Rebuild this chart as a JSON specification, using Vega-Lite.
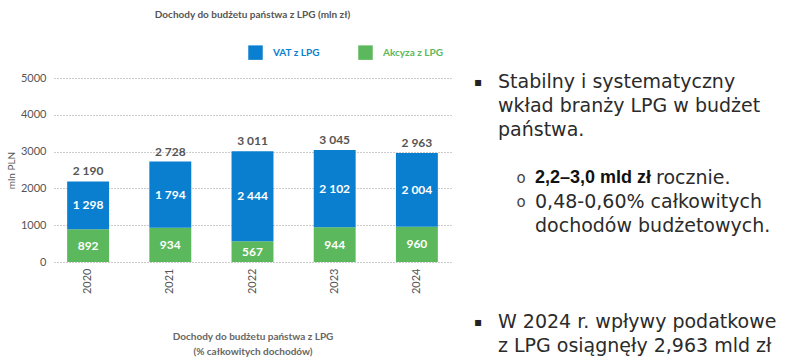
{
  "$schema": "https://vega.github.io/schema/vega-lite/v6.json",
  "background": "white",
  "padding": {"left": 6, "top": 10, "right": 0, "bottom": 0},
  "config": {
    "locale": {"number": {"decimal": ",", "thousands": " ", "grouping": [3], "currency": ["", " zł"]}},
    "view": {"stroke": null},
    "font": "Lato",
    "concat": {"spacing": 13},
    "axisY": {
      "values": [0, 1000, 2000, 3000, 4000, 5000], "format": "d", "labelOverlap": false,
      "grid": true, "gridDash": [1, 2], "gridColor": "#999",
      "domain": false, "ticks": false, "labelPadding": 8,
      "labelFontSize": 11, "labelColor": "#555",
      "titleFontSize": 10, "titleColor": "#555", "titleFontWeight": "normal", "titlePadding": 4
    },
    "axisX": {
      "labelAngle": -90, "labelAlign": "right", "labelBaseline": "middle",
      "domain": false, "ticks": false, "labelPadding": 6,
      "labelFontSize": 11, "labelColor": "#555",
      "titleFontSize": 10, "titleFontWeight": "bold", "titleColor": "#666",
      "titlePadding": 38, "titleLineHeight": 15
    }
  },
  "datasets": {
    "segments": [
      {"year": "2020", "series": "Akcyza z LPG", "value": 892},
      {"year": "2020", "series": "VAT z LPG", "value": 1298},
      {"year": "2021", "series": "Akcyza z LPG", "value": 934},
      {"year": "2021", "series": "VAT z LPG", "value": 1794},
      {"year": "2022", "series": "Akcyza z LPG", "value": 567},
      {"year": "2022", "series": "VAT z LPG", "value": 2444},
      {"year": "2023", "series": "Akcyza z LPG", "value": 944},
      {"year": "2023", "series": "VAT z LPG", "value": 2102},
      {"year": "2024", "series": "Akcyza z LPG", "value": 960},
      {"year": "2024", "series": "VAT z LPG", "value": 2004}
    ],
    "totals": [
      {"year": "2020", "total": 2190},
      {"year": "2021", "total": 2728},
      {"year": "2022", "total": 3011},
      {"year": "2023", "total": 3045},
      {"year": "2024", "total": 2963}
    ],
    "notes": [
      {"line": 0, "level": 1, "style": "normal", "first": true, "text": "Stabilny i systematyczny"},
      {"line": 1, "level": 1, "style": "normal", "first": false, "text": "wkład branży LPG w budżet"},
      {"line": 2, "level": 1, "style": "normal", "first": false, "text": "państwa."},
      {"line": 4, "level": 2, "style": "bold", "first": true, "text": "2,2–3,0 mld zł"},
      {"line": 4, "level": 2, "style": "after", "first": false, "text": "rocznie."},
      {"line": 5, "level": 2, "style": "normal", "first": true, "text": "0,48-0,60% całkowitych"},
      {"line": 6, "level": 2, "style": "normal", "first": false, "text": "dochodów budżetowych."},
      {"line": 10, "level": 1, "style": "normal", "first": true, "text": "W 2024 r. wpływy podatkowe"},
      {"line": 11, "level": 1, "style": "normal", "first": false, "text": "z LPG osiągnęły 2,963 mld zł"}
    ]
  },
  "hconcat": [
    {
      "width": 397,
      "height": 184,
      "title": {"text": "Dochody do budżetu państwa z LPG (mln zł)", "fontSize": 10, "fontWeight": "bold", "color": "#555", "anchor": "middle", "offset": 52, "font": "Lato"},
      "encoding": {
        "x": {
          "field": "year", "type": "ordinal",
          "scale": {"paddingInner": 0.49, "paddingOuter": 0.16},
          "title": ["Dochody do budżetu państwa z LPG", "(% całkowitych dochodów)"]
        }
      },
      "layer": [
        {
          "data": {"name": "segments"},
          "transform": [
            {"stack": "value", "groupby": ["year"], "sort": [{"field": "series", "order": "ascending"}], "as": ["v0", "v1"]}
          ],
          "mark": {"type": "bar"},
          "encoding": {
            "y": {
              "field": "v1", "type": "quantitative", "title": "mln PLN",
              "scale": {"domain": [0, 5000], "nice": false}
            },
            "y2": {"field": "v0"},
            "color": {
              "field": "series", "type": "nominal",
              "scale": {"domain": ["VAT z LPG", "Akcyza z LPG"], "range": ["#0b7fcf", "#5cb85c"]},
              "legend": {
                "title": null, "orient": "none", "direction": "horizontal",
                "legendX": 194, "legendY": -33,
                "symbolType": "square", "symbolSize": 210, "symbolStrokeWidth": 0,
                "labelFontSize": 10, "labelFontWeight": "bold", "labelOffset": 10,
                "columnPadding": 38,
                "encode": {"labels": {"update": {"fill": {"signal": "datum.label === 'VAT z LPG' ? '#0b7fcf' : '#5cb85c'"}}}}
              }
            }
          }
        },
        {
          "data": {"name": "segments"},
          "transform": [
            {"stack": "value", "groupby": ["year"], "sort": [{"field": "series", "order": "ascending"}], "as": ["v0", "v1"]},
            {"calculate": "(datum.v0 + datum.v1) / 2", "as": "mid"}
          ],
          "mark": {"type": "text", "color": "white", "fontWeight": "bold", "fontSize": 12, "font": "Lato"},
          "encoding": {
            "y": {"field": "mid", "type": "quantitative", "title": "mln PLN"},
            "text": {"field": "value", "type": "quantitative", "format": ",d"}
          }
        },
        {
          "data": {"name": "totals"},
          "mark": {"type": "text", "color": "#555", "fontWeight": "bold", "fontSize": 12, "dy": -10, "font": "Lato"},
          "encoding": {
            "y": {"field": "total", "type": "quantitative", "title": "mln PLN"},
            "text": {"field": "total", "type": "quantitative", "format": ",d"}
          }
        }
      ]
    },
    {
      "width": 330,
      "height": 279,
      "data": {"name": "notes"},
      "encoding": {
        "x": {"field": "level", "type": "quantitative", "scale": {"domain": [1, 2], "range": [34, 71]}, "axis": null},
        "y": {"field": "line", "type": "quantitative", "scale": {"domain": [-0.16, 11.45], "reverse": true, "nice": false, "zero": false}, "axis": null}
      },
      "layer": [
        {
          "transform": [{"filter": "datum.style === 'normal'"}],
          "mark": {"type": "text", "align": "left", "baseline": "middle", "font": "DejaVu Sans", "fontSize": 19, "color": "#2b2b2b"},
          "encoding": {"text": {"field": "text"}}
        },
        {
          "transform": [{"filter": "datum.style === 'bold'"}],
          "mark": {"type": "text", "align": "left", "baseline": "middle", "font": "Liberation Sans", "fontSize": 18, "fontWeight": "bold", "color": "#111"},
          "encoding": {"text": {"field": "text"}}
        },
        {
          "transform": [{"filter": "datum.style === 'after'"}],
          "mark": {"type": "text", "align": "left", "baseline": "middle", "font": "DejaVu Sans", "fontSize": 19, "color": "#2b2b2b", "dx": 121},
          "encoding": {"text": {"field": "text"}}
        },
        {
          "transform": [{"filter": "datum.first && datum.level === 1"}],
          "mark": {"type": "text", "text": "▪", "align": "center", "baseline": "middle", "font": "DejaVu Sans", "fontSize": 12, "color": "#222", "dx": -20},
          "encoding": {}
        },
        {
          "transform": [{"filter": "datum.first && datum.level === 2"}],
          "mark": {"type": "text", "text": "o", "align": "center", "baseline": "middle", "font": "DejaVu Sans", "fontSize": 15, "color": "#444", "dx": -14},
          "encoding": {}
        }
      ]
    }
  ]
}
